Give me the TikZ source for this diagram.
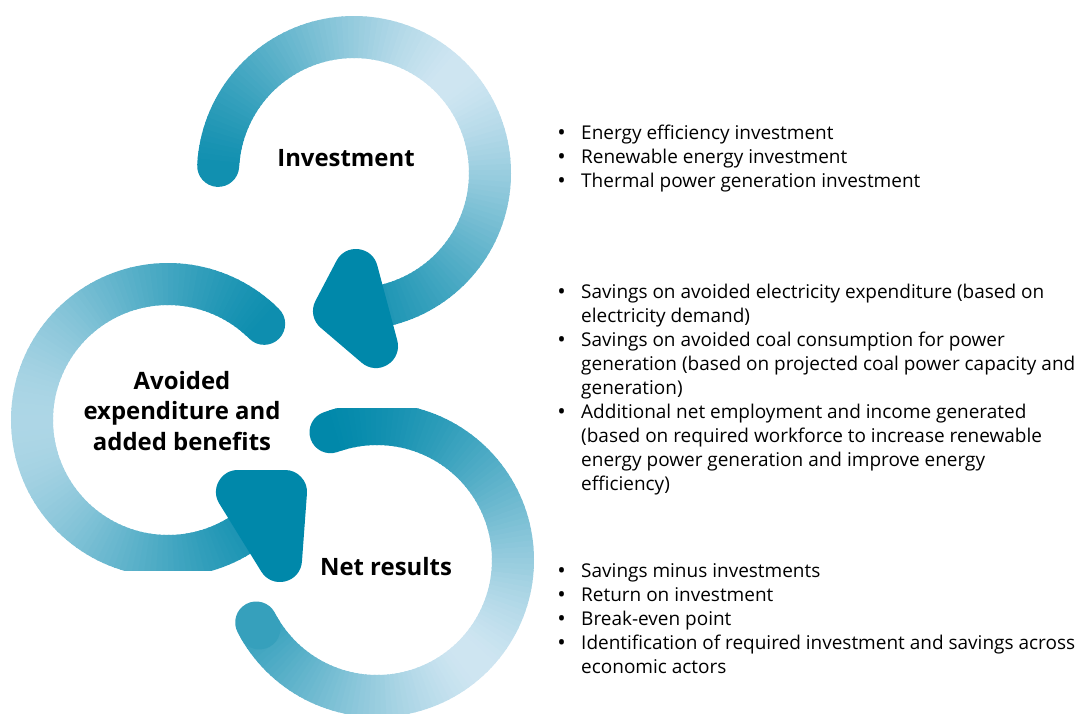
\documentclass[tikz,border=0pt]{standalone}
\usepackage{fontspec}
\setmainfont{Open Sans}
\definecolor{ringdark}{RGB}{0,136,170}
\definecolor{ringlight}{RGB}{208,230,242}
\tikzset{
  steplabel/.style={font=\fontsize{17}{22}\selectfont\bfseries,align=center},
  itemlist/.style={anchor=north west,inner sep=0pt,font=\fontsize{13.5}{17.07}\selectfont},
  arrowhead/.style={fill=ringdark,draw=ringdark,line width=1.1cm,line join=round}
}
\newcommand{\itembul}{\smash{\raisebox{-0.9pt}{\fontsize{16}{16}\selectfont\textbullet}}}
% thick ring, coloured along a straight gradient
% #1,#2 centre  #3,#4 start/end angle  #5,#6 gradient direction  #7 light value  #8 dark value  #9 end cap
\newcommand{\ringarc}[9]{%
  \pgfmathsetmacro{\rstep}{(#4-#3)/120}
  \foreach \k in {0,...,119}{
    \pgfmathsetmacro{\ra}{#3+\k*\rstep}
    \pgfmathsetmacro{\rx}{#1+136*cos(\ra)}
    \pgfmathsetmacro{\ry}{#2+136*sin(\ra)}
    \pgfmathsetmacro{\rt}{max(0.001,min(1,(#5*\rx+#6*\ry-(#7))/((#8)-(#7))))}
    \pgfmathsetmacro{\rt}{100*\rt^0.7}
    \colorlet{segcol}{ringdark!\rt!ringlight}
    \ifnum\k=0 \def\rc{round}\else\ifnum\k=119 \def\rc{#9}\else\def\rc{butt}\fi\fi
    \draw[segcol,line width=1.05cm,line cap=\rc] (\rx,\ry)
      arc[start angle=\ra,end angle=\ra+1.3*\rstep,radius=136];
  }
}

\begin{document}
\begin{tikzpicture}[x=0.025cm,y=-0.025cm]
  \useasboundingbox (0,0) rectangle (1088,713);

  % investment
  \ringarc{354}{173}{183}{450}{-1}{1}{-373}{-10}{butt}
  \filldraw[arrowhead] (356,271) -- (376,346) -- (335,311) -- cycle;

  % avoided expenditure, cut at the bottom
  \begin{scope}
    \clip (0,0) rectangle (1088,570);
    \ringarc{168}{420}{315}{45}{1}{0}{10}{290}{butt}
  \end{scope}
  \filldraw[arrowhead] (238,492) -- (285,492) -- (280,560) -- cycle;

  % net results, cut at the top
  \begin{scope}
    \clip (0,408) rectangle (1088,740);
    \ringarc{377}{560}{250}{512}{1}{1}{1129}{760}{round}
  \end{scope}

  \node[steplabel] (inv) at (346,158) {Investment};
  \node[steplabel] (avd) at (182,411) {Avoided\\expenditure and\\added benefits};
  \node[steplabel] (net) at (386,567) {Net results};

  \node[itemlist] (invlist) at (557,122) {\begin{tabular}{@{}l@{\hspace{11pt}}l@{}}
    \itembul & Energy efficiency investment\\
    \itembul & Renewable energy investment\\
    \itembul & Thermal power generation investment
  \end{tabular}};
  \node[itemlist] (avdlist) at (557,281) {\begin{tabular}{@{}l@{\hspace{11pt}}l@{}}
    \itembul & Savings on avoided electricity expenditure (based on\\
             & electricity demand)\\
    \itembul & Savings on avoided coal consumption for power\\
             & generation (based on projected coal power capacity and\\
             & generation)\\
    \itembul & Additional net employment and income generated\\
             & (based on required workforce to increase renewable\\
             & energy power generation and improve energy\\
             & efficiency)
  \end{tabular}};
  \node[itemlist] (netlist) at (557,560) {\begin{tabular}{@{}l@{\hspace{11pt}}l@{}}
    \itembul & Savings minus investments\\
    \itembul & Return on investment\\
    \itembul & Break-even point\\
    \itembul & Identification of required investment and savings across\\
             & economic actors
  \end{tabular}};
\end{tikzpicture}
\end{document}
